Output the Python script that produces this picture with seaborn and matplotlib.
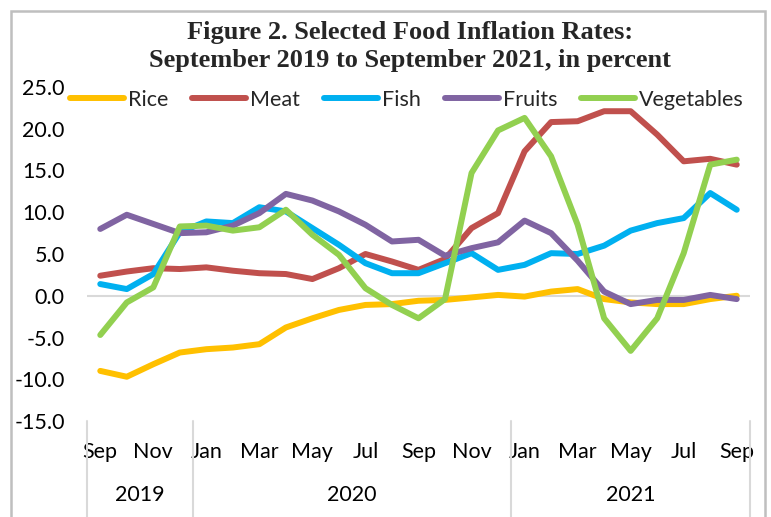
import numpy as np
import pandas as pd
import matplotlib
matplotlib.use("Agg")
import matplotlib.pyplot as plt
import matplotlib.transforms as mtransforms
from matplotlib.patches import Rectangle
import seaborn as sns

months = ["Sep", "Oct", "Nov", "Dec",
          "Jan", "Feb", "Mar", "Apr", "May", "Jun", "Jul", "Aug", "Sep", "Oct", "Nov", "Dec",
          "Jan", "Feb", "Mar", "Apr", "May", "Jun", "Jul", "Aug", "Sep"]
years = ["2019", "2020", "2021"]
year_counts = [4, 12, 9]

rice = [-9.0, -9.7, -8.2, -6.8, -6.4, -6.2, -5.8, -3.8, -2.7, -1.7, -1.1, -1.0, -0.6,
        -0.5, -0.2, 0.1, -0.1, 0.5, 0.8, -0.4, -0.8, -1.0, -1.0, -0.4, 0.0]
meat = [2.4, 2.9, 3.3, 3.2, 3.4, 3.0, 2.7, 2.6, 2.0, 3.3, 5.0, 4.1, 3.1,
        4.4, 8.1, 9.9, 17.3, 20.8, 20.9, 22.1, 22.1, 19.3, 16.1, 16.4, 15.7]
fish = [1.4, 0.8, 2.6, 7.6, 8.9, 8.7, 10.6, 10.1, 8.1, 6.1, 3.9, 2.7, 2.7,
        3.9, 5.1, 3.1, 3.7, 5.1, 5.0, 6.0, 7.8, 8.7, 9.3, 12.3, 10.3]
fruits = [8.0, 9.7, 8.6, 7.5, 7.6, 8.4, 9.9, 12.2, 11.4, 10.1, 8.5, 6.5, 6.7,
          4.8, 5.7, 6.4, 9.0, 7.5, 4.2, 0.5, -1.0, -0.5, -0.5, 0.1, -0.4]
vegetables = [-4.7, -0.8, 1.0, 8.3, 8.4, 7.8, 8.2, 10.3, 7.3, 4.9, 0.9, -1.1, -2.7,
              -0.4, 14.7, 19.8, 21.3, 16.7, 8.5, -2.7, -6.6, -2.7, 5.1, 15.7, 16.3]

series_names = ["Rice", "Meat", "Fish", "Fruits", "Vegetables"]
series_values = [rice, meat, fish, fruits, vegetables]
colors = ["#FFC000", "#C0504D", "#00B0F0", "#8064A2", "#92D050"]

rows = []
for name, vals in zip(series_names, series_values):
    for i, v in enumerate(vals):
        rows.append({"idx": i, "value": v, "series": name})
df = pd.DataFrame(rows)

sns.set_theme(style="white")
plt.rcParams["font.family"] = ["Lato", "DejaVu Sans"]

FS = 15.5
fig = plt.figure(figsize=(7.71, 5.17), dpi=100)
ax = fig.add_axes([87/771, 1-421/517, (750-87)/771, (421-87)/517])

ax.axhline(0, color="#d9d9d9", lw=1.5, zorder=0)
sns.lineplot(data=df, x="idx", y="value", hue="series", hue_order=series_names,
             palette=colors, linewidth=4.3, ax=ax, legend=True, sort=False)

n = len(months)
ax.set_xlim(-0.5, n - 0.5)
ax.set_ylim(-15, 25)
ax.set_yticks(np.arange(-15, 26, 5))
ax.set_yticklabels([f"{v:.1f}" for v in np.arange(-15, 26, 5)], fontsize=FS, color="#000000")
tick_idx = list(range(0, n, 2))
ax.set_xticks(tick_idx)
ax.set_xticklabels([months[i] for i in tick_idx], fontsize=FS, color="#000000")
ax.tick_params(axis="x", length=0, pad=15)
ax.tick_params(axis="y", length=0, pad=16)
ax.set_xlabel("")
ax.set_ylabel("")
for s in ax.spines.values():
    s.set_visible(False)

trans = mtransforms.blended_transform_factory(ax.transData, ax.transAxes)
bottom_frac = -(517 - 421) / (421 - 87)
bounds = np.concatenate([[0], np.cumsum(year_counts)]) - 0.5
for b in bounds:
    ax.plot([b, b], [0, bottom_frac], transform=trans, color="#d9d9d9", lw=1.5,
            clip_on=False)
for y, a, b in zip(years, bounds[:-1], bounds[1:]):
    ax.text((a + b) / 2, -(495 - 421) / (421 - 87), y, transform=trans,
            ha="center", va="center", fontsize=FS, color="#000000")

leg = ax.legend(loc="center", bbox_to_anchor=(407/771, 1-100/517),
                bbox_transform=fig.transFigure, ncol=5, frameon=False,
                fontsize=FS, handlelength=2.5, handletextpad=0.2,
                columnspacing=1.1, borderaxespad=0)
for line in leg.get_lines():
    line.set_linewidth(4.3)
    line.set_solid_capstyle("round")

fig.text(410/771, 1-33/517, "Figure 2. Selected Food Inflation Rates:",
         ha="center", va="center", fontsize=19, fontweight="bold",
         family="Liberation Serif")
fig.text(410/771, 1-61/517, "September 2019 to September 2021, in percent",
         ha="center", va="center", fontsize=19, fontweight="bold",
         family="Liberation Serif")

fig.patches.append(Rectangle((11/771, -0.05), (765-11)/771, 1-11/517+0.05,
                             transform=fig.transFigure, fill=False,
                             edgecolor="#bfbfbf", lw=1.8))

fig.savefig("out.png", dpi=100)
